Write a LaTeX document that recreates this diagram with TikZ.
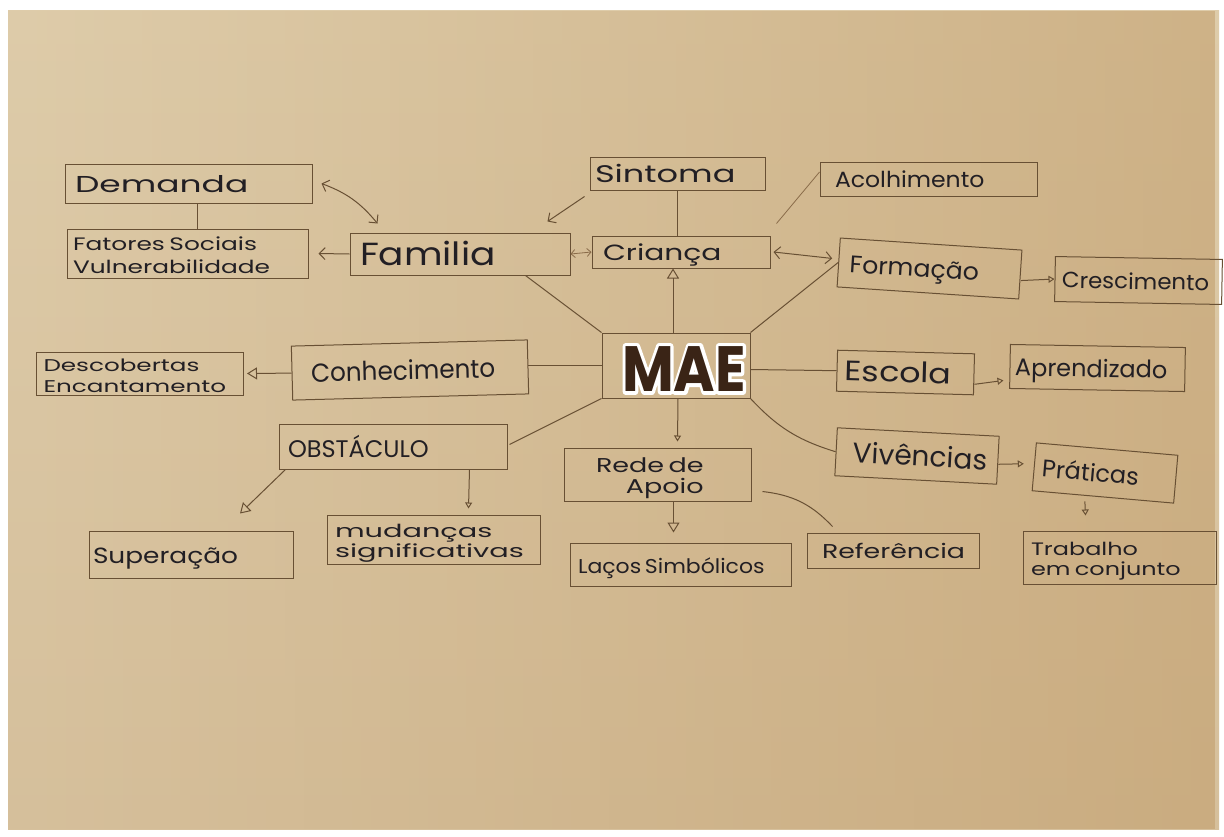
\documentclass[tikz,border=0pt]{standalone}
\usepackage{fontspec}
\setmainfont{Poppins}
\usepackage{graphicx}
\usetikzlibrary{arrows.meta,calc,fadings}

\definecolor{ink}{RGB}{34,31,36}
\definecolor{pencil}{RGB}{104,80,52}
\definecolor{pencillight}{RGB}{138,108,74}
\definecolor{marker}{RGB}{58,36,22}
\definecolor{paperTop}{RGB}{222,204,170}
\definecolor{paperMid}{RGB}{212,188,148}
\definecolor{paperBot}{RGB}{214,192,156}
\definecolor{paperDark}{RGB}{190,152,100}

% handwritten-looking label: horizontal stretch, size, leading, lines
\newcommand\hw[4]{\raisebox{-4pt}[\height][\depth]{\scalebox{#1}[1]{\fontsize{#2}{#3}\selectfont\begin{tabular}{@{}l@{}}#4\end{tabular}}}}
% outlined lettering (stroke only) for the rim of the central word
\newcommand\rimtext[1]{\special{pdf:literal direct 1 Tr 7 w 1 j}#1}

\tikzset{
  box/.style={draw=pencil, line width=1pt, inner ysep=0pt, align=left, text=ink},
  ln/.style={draw=pencil, line width=1pt},
  lnl/.style={draw=pencillight, line width=0.8pt},
  tri/.style={-{Triangle[open,length=10pt,width=12pt,line width=1pt]}},
  trs/.style={-{Triangle[open,length=6pt,width=7pt,line width=1pt]}},
  bar/.style={-{Straight Barb[length=6pt,width=12pt,line width=1pt]}},
  dbar/.style={{Straight Barb[length=6pt,width=12pt,line width=1pt]}-{Straight Barb[length=6pt,width=12pt,line width=1pt]}},
  dbars/.style={{Straight Barb[length=4pt,width=8pt]}-{Straight Barb[length=4pt,width=8pt]}},
  maefont/.style={font=\bfseries\fontsize{64}{64}\selectfont, inner sep=0pt},
}

\begin{document}
\begin{tikzpicture}[x=1pt,y=-1pt]
% sheet of paper on a white ground
\fill[white] (0,0) rectangle (1224,836);
\useasboundingbox (0,0) rectangle (1224,836);
\shade[top color=paperTop, middle color=paperMid, bottom color=paperBot] (8,10) rectangle (1219,829);
\fill[paperDark, fill opacity=0.5, path fading=west] (8,10) rectangle (1219,829);

% ---- boxes ----
\node[box, minimum width=247, minimum height=39, inner xsep=10pt, text width=227pt] (dem) at (188.5,183.5) {\hw{1.5}{23}{26}{Demanda}};
\node[box, minimum width=241, minimum height=49, inner xsep=6pt, text width=229pt] (fat) at (187.5,253.5) {\hw{1.38}{18}{23}{Fatores Sociais\\Vulnerabilidade}};
\node[box, minimum width=220, minimum height=42, inner xsep=10pt, text width=200pt] (fam) at (460,254) {\hw{1.17}{32}{34}{Familia}};
\node[box, minimum width=175, minimum height=33, inner xsep=5pt, text width=165pt] (sin) at (677.5,173.5) {\hw{1.4}{24}{26}{Sintoma}};
\node[box, minimum width=178, minimum height=32, inner xsep=11pt, text width=156pt] (cri) at (681,252) {\hw{1.35}{22}{24}{Criança}};
\node[box, minimum width=217, minimum height=34, inner xsep=15pt, text width=187pt] (aco) at (928.5,179) {\hw{1.07}{22}{24}{Acolhimento}};
\node[box, minimum width=182, minimum height=49, inner xsep=11pt, text width=160pt, rotate=-3.8] (for) at (929.5,268.5) {\hw{1.05}{24}{26}{Formação}};
\node[box, minimum width=167, minimum height=45, inner xsep=7pt, text width=153pt, rotate=-1] (cre) at (1138.5,280.5) {\hw{1.04}{22}{24}{Crescimento}};
\node[box, minimum width=236, minimum height=54, inner xsep=19pt, text width=198pt, rotate=1.5] (con) at (410,370) {\hw{0.95}{26}{28}{Conhecimento}};
\node[box, minimum width=207, minimum height=43, inner xsep=7pt, text width=193pt] (des) at (140,373.5) {\hw{1.45}{17}{21}{Descobertas\\Encantamento}};
\node[box, minimum width=137, minimum height=41, inner xsep=8pt, text width=121pt, rotate=-1.5] (esc) at (905.5,372.5) {\hw{1.19}{28}{30}{Escola}};
\node[box, minimum width=175, minimum height=44, inner xsep=5pt, text width=165pt, rotate=-1] (apr) at (1097.5,368) {\hw{1.0}{24}{26}{Aprendizado}};
\node[box, minimum width=228, minimum height=45, inner xsep=9pt, text width=210pt] (obs) at (393,446.5) {\hw{1.0}{24}{26}{OBSTÁCULO}};
\node[box, minimum width=187, minimum height=53, inner xsep=32pt, text width=123pt] (red) at (657.5,474.5) {\hw{1.35}{20}{19}{Rede de\\\hfill Apoio}};
\node[box, minimum width=162, minimum height=48, inner xsep=17pt, text width=128pt, rotate=-3] (viv) at (917,456) {\hw{1.0}{28}{30}{Vivências}};
\node[box, minimum width=142, minimum height=48, inner xsep=8pt, text width=126pt, rotate=-5] (pra) at (1105,473) {\hw{1.0}{24}{26}{Práticas}};
\node[box, minimum width=204, minimum height=47, inner xsep=4pt, text width=196pt] (sup) at (191,554.5) {\hw{1.2}{22}{24}{Superação}};
\node[box, minimum width=213, minimum height=49, inner xsep=8pt, text width=197pt] (mud) at (433.5,539.5) {\hw{1.6}{18}{20}{mudanças\\significativas}};
\node[box, minimum width=221, minimum height=43, inner xsep=8pt, text width=205pt] (lac) at (680.5,564.5) {\hw{1.1}{20}{22}{Laços Simbólicos}};
\node[box, minimum width=172, minimum height=35, inner xsep=15pt, text width=142pt] (ref) at (893,550.5) {\hw{1.34}{20}{22}{Referência}};
\node[box, minimum width=193, minimum height=53, inner xsep=8pt, text width=177pt] (tra) at (1119.5,557.5) {\hw{1.33}{18}{20}{Trabalho\\em conjunto}};

% ---- central word: white outline under the marker letters ----
\node[box, minimum width=148, minimum height=65, inner sep=0pt] (mae) at (676,365.5) {};
\node[maefont, text=white] (maerim) at (684,369) {\scalebox{0.88}[1]{\rimtext{MAE}}};
\node[maefont, text=marker] (maeword) at (684,369) {\scalebox{0.88}[1]{MAE}};

% ---- connectors ----
\draw[ln] ($(dem.south)+(8.5,0)$) -- ($(fat.north)+(9.5,0)$);
\draw[ln,dbar] ($(dem.east)+(9,0)$) to[bend left=15] ($(fam.north west)+(28,-9)$);
\draw[ln,bar] (fam.west) -- ($(fat.east)+(10,0)$);
\draw[lnl,dbars] (fam.east) -- (cri.west);
\draw[ln,bar] ($(sin.south west)+(-5,6)$) -- ($(cri.north west)+(-44,-14)$);
\draw[ln] (sin.south) -- (sin.south |- cri.north);
\draw[lnl] ($(aco.west)+(0,-7)$) -- ($(cri.north east)+(6,-12)$);
\draw[ln,dbar] ($(cri.east)+(3,0)$) -- ($(for.west)+(-6,-4)$);
\draw[ln,trs] ($(for.east)+(0,6)$) -- (cre.west);
\draw[ln,tri] ($(mae.north)+(-3,0)$) -- ($(cri.south)+(-8,0)$);
\draw[ln] (mae.north west) -- ($(fam.south east)+(-45,0)$);
\draw[ln] (mae.north east) -- (for.west);
\draw[ln] (mae.west) -- (mae.west -| con.east);
\draw[ln,tri] (con.west) -- ($(des.east)+(3,0)$);
\draw[ln] ($(mae.east)+(0,4)$) -- (esc.west);
\draw[ln,trs] ($(esc.east)+(0,10)$) -- ($(apr.west)+(-6,14)$);
\draw[ln] (mae.south east) to[bend right=15] (viv.west);
\draw[ln,trs] ($(viv.east)+(0,4)$) -- ($(pra.west)+(-10,-3)$);
\draw[ln,trs] ($(pra.south)+(-18,4)$) -- ($(tra.north)+(-34,-15)$);
\draw[ln,trs] ($(mae.south)+(2,0)$) -- ($(red.north)+(20,-6)$);
\draw[ln] (mae.south west) -- ($(obs.east)+(2,-2)$);
\draw[ln,tri] ($(obs.south west)+(7,0)$) -- ($(sup.north)+(49,-17)$);
\draw[ln,trs] ($(obs.south east)+(-38,0)$) -- ($(mud.north)+(35,-6)$);
\draw[ln,tri] ($(red.south)+(16,0)$) -- ($(lac.north)+(-7,-10)$);
\draw[ln] ($(red.east)+(11,17)$) to[bend left=20] ($(ref.north west)+(26,-6)$);
\end{tikzpicture}
\end{document}
